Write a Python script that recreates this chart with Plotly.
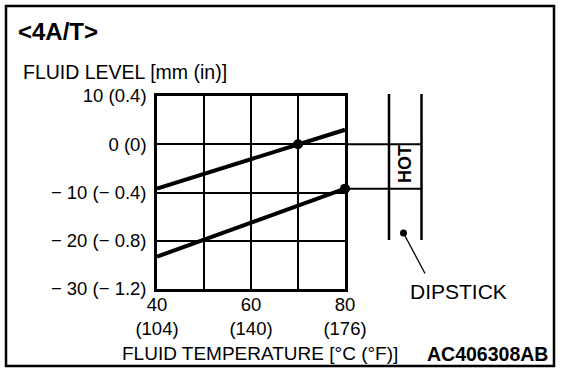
import plotly.graph_objects as go

# ---- data ----
temp_c_ticks = [40, 50, 60, 70, 80]
temp_tick_text = ["40<br>(104)", "", "60<br>(140)", "", "80<br>(176)"]
level_ticks = [-30, -20, -10, 0, 10]
level_tick_text = ["− 30 (− 1.2)", "− 20 (− 0.8)", "− 10 (− 0.4)", "0 (0)", "10 (0.4)"]

upper_temp = [40, 80]
upper_level = [-9.2, 3.0]
lower_temp = [40, 80]
lower_level = [-23.3, -9.2]
point_temp = [70, 80]
point_level = [0, -9.2]
hot_limits = [0, -9.2]

FONT = "Liberation Sans, Arial, Helvetica, sans-serif"
W, H = 576, 378
L, T = 157, 96
R = W - 345
B = H - 289
PW, PH = W - L - R, H - T - B


def px(xp):  # page pixel -> paper x
    return (xp - L) / PW


def py(yp):  # page pixel -> paper y
    return (H - B - yp) / PH


fig = go.Figure()
for xs, ys in [(upper_temp, upper_level), (lower_temp, lower_level)]:
    fig.add_trace(go.Scatter(x=xs, y=ys, mode="lines",
                             line=dict(color="black", width=4),
                             hoverinfo="skip", showlegend=False))
fig.add_trace(go.Scatter(x=point_temp, y=point_level, mode="markers",
                         marker=dict(color="black", size=10),
                         cliponaxis=False, showlegend=False))

shapes = []
# level lines extending to the dipstick
for lv in hot_limits:
    shapes.append(dict(type="line", xref="paper", yref="y", x0=1, x1=px(422),
                       y0=lv, y1=lv, line=dict(color="black", width=2)))
# dipstick
for xx in [389, 421.5]:
    shapes.append(dict(type="line", xref="paper", yref="paper", x0=px(xx), x1=px(xx),
                       y0=py(94), y1=py(240), line=dict(color="black", width=2.5)))
shapes.append(dict(type="line", xref="paper", yref="paper", x0=px(403.5), y0=py(233),
                   x1=px(425), y1=py(273.5), line=dict(color="black", width=1.3)))
shapes.append(dict(type="circle", xref="paper", yref="paper", fillcolor="black",
                   line=dict(color="black", width=0),
                   x0=px(400), x1=px(407), y0=py(229.5), y1=py(236.5)))
# outer frame
shapes.append(dict(type="rect", xref="paper", yref="paper", x0=px(6), x1=px(554),
                   y0=py(366), y1=py(6), line=dict(color="black", width=2.5)))

annotations = [
    dict(text="<b>&lt;4A/T&gt;</b>", x=px(16), y=py(32), xanchor="left", yanchor="middle",
         font=dict(size=24, family=FONT, color="black")),
    dict(text="FLUID LEVEL [mm (in)]", x=px(21), y=py(72), xanchor="left", yanchor="middle",
         font=dict(size=19.5, family=FONT, color="black")),
    dict(text="FLUID TEMPERATURE [°C (°F)]", x=px(260), y=py(353), xanchor="center",
         yanchor="middle", font=dict(size=19, family=FONT, color="black")),
    dict(text="<b>AC406308AB</b>", x=px(550), y=py(354), xanchor="right", yanchor="middle",
         font=dict(size=19.5, family=FONT, color="black")),
    dict(text="DIPSTICK", x=px(458), y=py(291), xanchor="center", yanchor="middle",
         font=dict(size=21, family=FONT, color="black")),
    dict(text="<b>HOT</b>", x=px(405), y=py(164), xanchor="center", yanchor="middle",
         textangle=-90, font=dict(size=18, family=FONT, color="black")),
]
for a in annotations:
    a.update(xref="paper", yref="paper", showarrow=False)

fig.update_layout(
    width=W, height=H, margin=dict(l=L, r=R, t=T, b=B, pad=0),
    paper_bgcolor="white", plot_bgcolor="white",
    shapes=shapes, annotations=annotations, showlegend=False,
    font=dict(family=FONT, color="black", size=18.5),
)
fig.update_xaxes(range=[40, 80], tickvals=temp_c_ticks, ticktext=temp_tick_text,
                 showgrid=True, gridcolor="black", gridwidth=2,
                 showline=True, linecolor="black", linewidth=2.5, mirror=True,
                 ticks="", ticklabelstandoff=-3, zeroline=False,
                 tickfont=dict(size=18.5, family=FONT, color="black"))
fig.update_yaxes(range=[-30, 10], tickvals=level_ticks, ticktext=level_tick_text,
                 showgrid=True, gridcolor="black", gridwidth=2,
                 showline=True, linecolor="black", linewidth=2.5, mirror=True,
                 ticks="", ticklabelstandoff=4, zeroline=False,
                 tickfont=dict(size=18.5, family=FONT, color="black"))

# remove the default 8px page margin so the 576x378 figure fills the window
fig.write_html("out.html",
               config={"displayModeBar": False},
               post_script="document.body.style.margin='0';document.body.style.overflow='hidden';")
